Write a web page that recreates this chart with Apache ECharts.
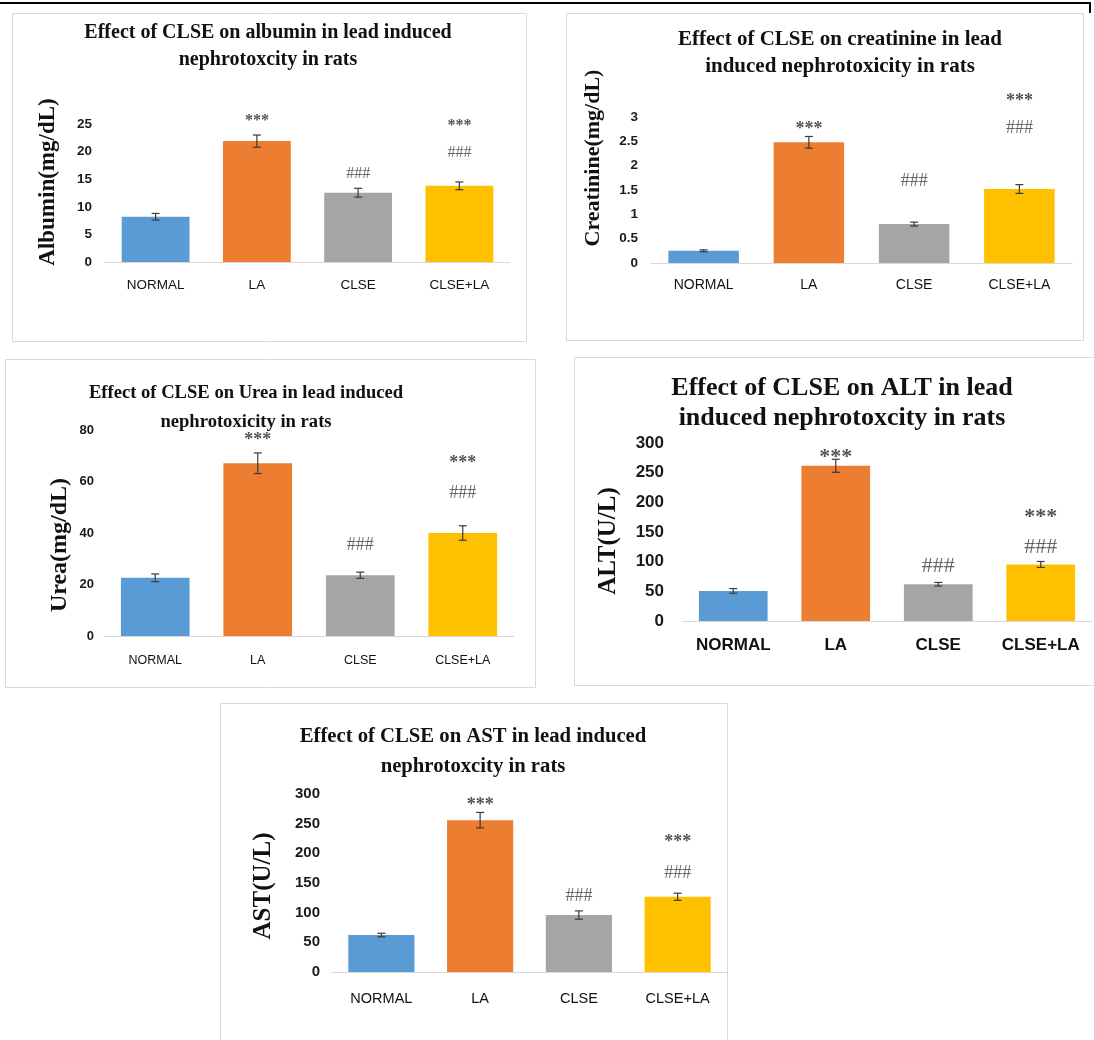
<!DOCTYPE html>
<html>
<head>
<meta charset="utf-8">
<script src="https://cdn.jsdelivr.net/npm/echarts@6/dist/echarts.min.js"></script>
<style>
html,body{margin:0;padding:0;background:#fff;}
#chart{width:1094px;height:1040px;}
</style>
</head>
<body>
<div id="chart"></div>
<script>
// ---------------- DATA ----------------
const categories = ['NORMAL', 'LA', 'CLSE', 'CLSE+LA'];

const albuminMean = [8.2, 21.9, 12.55, 13.8];
const albuminErr = [0.6, 1.1, 0.8, 0.7];
const albuminStars = [null, 25.5, null, 24.6];
const albuminHashes = [null, null, 15.9, 19.7];
const albuminTicks = [0, 5, 10, 15, 20, 25];

const creatinineMean = [0.25, 2.48, 0.80, 1.52];
const creatinineErr = [0.02, 0.12, 0.04, 0.09];
const creatinineStars = [null, 2.75, null, 3.32];
const creatinineHashes = [null, null, 1.67, 2.77];
const creatinineTicks = [0, 0.5, 1, 1.5, 2, 2.5, 3];

const ureaMean = [22.6, 67.1, 23.6, 40.0];
const ureaErr = [1.5, 4.0, 1.2, 2.8];
const ureaStars = [null, 76.1, null, 67.0];
const ureaHashes = [null, null, 35.3, 55.5];
const ureaTicks = [0, 20, 40, 60, 80];

const altMean = [50.7, 261.6, 62.0, 95.3];
const altErr = [4, 11, 3, 5];
const altStars = [null, 276, null, 174.4];
const altHashes = [null, null, 91.5, 125];
const altTicks = [0, 50, 100, 150, 200, 250, 300];

const astMean = [62.3, 255.9, 96.0, 126.8];
const astErr = [3, 13, 7, 6];
const astStars = [null, 280.6, null, 218];
const astHashes = [null, null, 128, 167];
const astTicks = [0, 50, 100, 150, 200, 250, 300];

const barColors = ['#5B9BD5', '#ED7D31', '#A5A5A5', '#FFC000'];

// ---------------- PANELS ----------------
const panels = [
  {title: 'Effect of CLSE on albumin in lead induced\nnephrotoxcity in rats', yName: 'Albumin(mg/dL)',
   mean: albuminMean, err: albuminErr, stars: albuminStars, hashes: albuminHashes, ticks: albuminTicks,
   box: [12, 13, 526, 341], grid: {left: 105, top: 124, width: 405, height: 138},
   tCx: 268, tTop: 19.5, tFs: 20, tLh: 27, nx: 48, ny: 182, nFs: 23,
   tickFs: 13.5, xFs: 13.5, xMargin: 16, yMargin: 13, bold: false, aFs: 16},
  {title: 'Effect of CLSE on creatinine in lead\ninduced nephrotoxicity in rats', yName: 'Creatinine(mg/dL)',
   mean: creatinineMean, err: creatinineErr, stars: creatinineStars, hashes: creatinineHashes, ticks: creatinineTicks,
   box: [566, 13, 1083, 340], grid: {left: 651, top: 117, width: 421, height: 146},
   tCx: 840, tTop: 26.5, tFs: 21, tLh: 27, nx: 593, ny: 158, nFs: 22,
   tickFs: 13.5, xFs: 14, xMargin: 15, yMargin: 13, bold: false, aFs: 18},
  {title: 'Effect of CLSE on Urea in lead induced\nnephrotoxicity in rats', yName: 'Urea(mg/dL)',
   mean: ureaMean, err: ureaErr, stars: ureaStars, hashes: ureaHashes, ticks: ureaTicks,
   box: [5, 359, 535, 687], grid: {left: 104, top: 430, width: 410, height: 206},
   tCx: 246, tTop: 378.5, tFs: 18.6, tLh: 29, nx: 60, ny: 545, nFs: 24,
   tickFs: 13, xFs: 12.5, xMargin: 18, yMargin: 10, bold: false, aFs: 18},
  {title: 'Effect of CLSE on ALT in lead\ninduced nephrotoxcity in rats', yName: 'ALT(U/L)',
   mean: altMean, err: altErr, stars: altStars, hashes: altHashes, ticks: altTicks,
   box: [574, 357, 1100, 685], grid: {left: 682, top: 443, width: 410, height: 178},
   tCx: 842, tTop: 373, tFs: 26, tLh: 30, nx: 609, ny: 541, nFs: 25,
   tickFs: 17, xFs: 17, xMargin: 16, yMargin: 18, bold: true, aFs: 22},
  {title: 'Effect of CLSE on AST in lead induced\nnephrotoxcity in rats', yName: 'AST(U/L)',
   mean: astMean, err: astErr, stars: astStars, hashes: astHashes, ticks: astTicks,
   box: [220, 703, 727, 1060], grid: {left: 332, top: 794, width: 395, height: 178},
   tCx: 473, tTop: 722, tFs: 20.7, tLh: 30, nx: 264, ny: 886, nFs: 25,
   tickFs: 15, xFs: 14.5, xMargin: 19, yMargin: 12, bold: false, aFs: 18}
];

const serif = "'Liberation Serif', 'Times New Roman', serif";
const sans = "'Liberation Sans', Arial, sans-serif";

const option = {
  backgroundColor: '#ffffff',
  animation: false,
  title: [], grid: [], xAxis: [], yAxis: [], series: [], graphic: []
};

// decorations: top rule
option.graphic.push({type: 'line', shape: {x1: 0, y1: 3, x2: 1090, y2: 3}, style: {stroke: '#000', lineWidth: 2}});
option.graphic.push({type: 'line', shape: {x1: 1090, y1: 2, x2: 1090, y2: 13}, style: {stroke: '#000', lineWidth: 2}});

panels.forEach((p, k) => {
  const b = p.box;
  option.graphic.push({type: 'rect', shape: {x: b[0] + 0.5, y: b[1] + 0.5, width: b[2] - b[0], height: b[3] - b[1]},
    style: {fill: 'none', stroke: '#D9D9D9', lineWidth: 1}, z: -1});
  option.graphic.push({type: 'text', x: p.nx, y: p.ny, rotation: Math.PI / 2,
    style: {text: p.yName, font: 'bold ' + p.nFs + 'px ' + serif, fill: '#111',
      align: 'center', verticalAlign: 'middle', textAlign: 'center', textVerticalAlign: 'middle'}});

  option.title.push({text: p.title, left: p.tCx, top: p.tTop, padding: 0,
    textAlign: 'center', textVerticalAlign: 'top',
    textStyle: {fontFamily: serif, fontWeight: 'bold', fontSize: p.tFs, lineHeight: p.tLh, color: '#111'}});

  option.grid.push(Object.assign({containLabel: false}, p.grid));

  option.xAxis.push({type: 'category', gridIndex: k, data: categories,
    axisLine: {lineStyle: {color: '#D9D9D9', width: 1}}, axisTick: {show: false},
    axisLabel: {fontFamily: sans, fontSize: p.xFs, color: '#111', margin: p.xMargin,
      fontWeight: p.bold ? 'bold' : 'normal', interval: 0}});

  const step = p.ticks[1] - p.ticks[0];
  option.yAxis.push({type: 'value', gridIndex: k, min: p.ticks[0], max: p.ticks[p.ticks.length - 1], interval: step,
    splitLine: {show: false}, axisLine: {show: false}, axisTick: {show: false},
    axisLabel: {fontFamily: sans, fontSize: p.tickFs, color: '#1a1a1a', margin: p.yMargin,
      fontWeight: 'bold'}});

  option.series.push({type: 'bar', xAxisIndex: k, yAxisIndex: k, barWidth: '67%',
    data: p.mean.map((v, i) => ({value: v, itemStyle: {color: barColors[i]}}))});

  option.series.push({type: 'custom', xAxisIndex: k, yAxisIndex: k, z: 5,
    data: p.mean.map((v, i) => [i, v - p.err[i], v + p.err[i]]),
    encode: {x: 0, y: [1, 2]},
    renderItem: function (params, api) {
      const lo = api.coord([api.value(0), api.value(1)]);
      const hi = api.coord([api.value(0), api.value(2)]);
      const hw = 4;
      const st = {stroke: '#3a3a3a', lineWidth: 1.2};
      return {type: 'group', children: [
        {type: 'line', shape: {x1: lo[0], y1: lo[1], x2: hi[0], y2: hi[1]}, style: st},
        {type: 'line', shape: {x1: hi[0] - hw, y1: hi[1], x2: hi[0] + hw, y2: hi[1]}, style: st},
        {type: 'line', shape: {x1: lo[0] - hw, y1: lo[1], x2: lo[0] + hw, y2: lo[1]}, style: st}
      ]};
    }});

  const mk = (arr, txt, color, weight) => ({type: 'scatter', xAxisIndex: k, yAxisIndex: k, clip: false, z: 6,
    symbolSize: 1, itemStyle: {color: 'rgba(0,0,0,0)'},
    data: arr.map((v, i) => v == null ? null : [i, v]).filter(d => d),
    label: {show: true, position: 'inside', formatter: txt,
      fontFamily: serif, fontSize: p.aFs, color: color, fontWeight: weight}});
  option.series.push(mk(p.stars, '***', '#262626', 'bold'));
  option.series.push(mk(p.hashes, '###', '#404040', 'normal'));
});

const chart = echarts.init(document.getElementById('chart'), null, {renderer: 'canvas'});
chart.setOption(option);
</script>
</body>
</html>
